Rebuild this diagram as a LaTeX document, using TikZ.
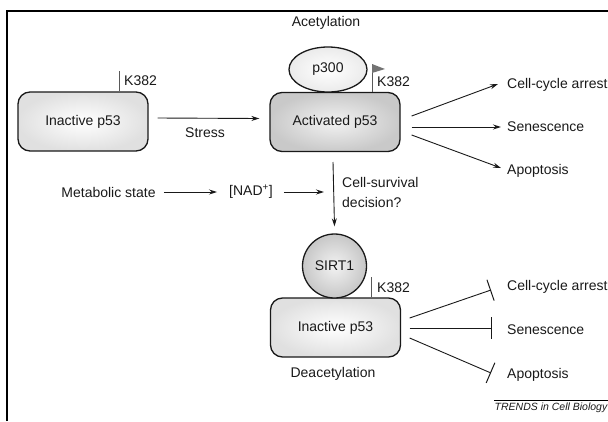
\documentclass[tikz,border=0pt]{standalone}
\usepackage{fontspec}
\setmainfont{Liberation Sans}
\usetikzlibrary{arrows.meta,shapes.geometric}
\begin{document}
\begin{tikzpicture}[x=1pt,y=-1pt,
  every node/.style={font=\fontsize{14}{20}\selectfont, text=black!90, inner sep=0pt},
  pbox/.style={draw=black!90, line width=1.3pt, rounded corners=12pt, minimum width=130pt, minimum height=59pt},
  lightfill/.style={inner color=white, outer color=black!12},
  darkfill/.style={inner color=black!5, outer color=black!21},
  arr/.style={line width=0.9pt, draw=black!90, -{Stealth[length=8pt,width=5pt]}},
  inh/.style={line width=0.9pt, draw=black!90, -{Bar[width=22pt,line width=1pt]}},
  tick/.style={line width=0.8pt, draw=black!65},
  lbl/.style={anchor=west},
]
\useasboundingbox (0,0) rectangle (608,421);
\draw[line width=2pt] (6.7,421) -- (6.7,11) -- (608,11);

% top row
\node[pbox, lightfill] (in1) at (83,121.5) {Inactive p53};
\node[pbox, darkfill] (act) at (335,122) {Activated p53};
\node[ellipse, draw=black!90, line width=1.3pt, minimum width=78pt, minimum height=45pt, inner color=white, outer color=black!8] (p300) at (328,69.5) {p300};
\node (acet) at (326,23) {Acetylation};

\coordinate (k1) at (119,71);
\draw[tick] (k1) -- (k1 |- in1.north);
\node[lbl] (k1l) at (124,81) {K382};

\coordinate (f) at (372,64);
\draw[tick] (f) -- (f |- act.north);
\fill[black!55] (f) -- ++(13,5) -- ++(-13,4) -- cycle;
\node[lbl] (k2l) at (377,82) {K382};

\draw[arr] ([xshift=9pt,yshift=3.5pt]in1.east) -- ([xshift=-10pt,yshift=3.5pt]act.west);
\node (stress) at (205,133) {Stress};

\node[lbl] (cc1) at (507,85) {Cell-cycle arrest};
\node[lbl] (se1) at (507,127) {Senescence};
\node[lbl] (ap1) at (507,171) {Apoptosis};
\draw[arr] ([xshift=11pt,yshift=6pt]act.east) -- ([xshift=-9pt,yshift=1pt]cc1.west);
\draw[arr] ([xshift=11pt,yshift=-5pt]act.east) -- ([xshift=-6pt]se1.west);
\draw[arr] ([xshift=11pt,yshift=-13pt]act.east) -- ([xshift=-6pt,yshift=3pt]ap1.west);

% middle row
\node (met) at (108.5,192) {Metabolic state};
\node (nad) at (251,192) {[NAD\textsuperscript{+}]};
\draw[arr] ([xshift=8pt]met.east) -- ([xshift=-12pt]nad.west);
\coordinate (vtop) at (333,162);
\coordinate (vj) at (vtop |- nad);
\draw[arr] ([xshift=11pt]nad.east) -- ([xshift=-9pt]vj);
\node[anchor=west, align=left] (csd) at (342,192) {Cell-survival\\decision?};

% bottom
\node[pbox, lightfill] (in2) at (335.5,327.5) {Inactive p53};
\node[circle, draw=black!90, line width=1.3pt, minimum size=64pt, inner color=black!5, outer color=black!22] (sirt) at (334.5,266) {SIRT1};
\draw[arr] (vtop) -- ([yshift=7pt]sirt.north);

\coordinate (k3) at (371,277);
\draw[tick] (k3) -- (k3 |- in2.north);
\node[lbl] (k3l) at (377,288) {K382};
\node (deac) at (333,374) {Deacetylation};

\node[lbl] (cc2) at (507,287) {Cell-cycle arrest};
\node[lbl] (se2) at (507,330) {Senescence};
\node[lbl] (ap2) at (507,375) {Apoptosis};
\draw[inh] ([xshift=8.5pt,yshift=9.5pt]in2.east) -- ([xshift=-16pt,yshift=-3pt]cc2.west);
\draw[inh] ([xshift=8.5pt,yshift=-0.5pt]in2.east) -- ([xshift=-15pt,yshift=2pt]se2.west);
\draw[inh] ([xshift=8.5pt,yshift=-10.5pt]in2.east) -- ([xshift=-16pt,yshift=2pt]ap2.west);

\node[anchor=east, font=\fontsize{10.5}{12}\selectfont\itshape] (tr) at (607.5,408) {TRENDS in Cell Biology};
\draw[line width=0.8pt] ([yshift=3pt]tr.north west) -- ([yshift=3pt,xshift=1pt]tr.north east);
\end{tikzpicture}
\end{document}
